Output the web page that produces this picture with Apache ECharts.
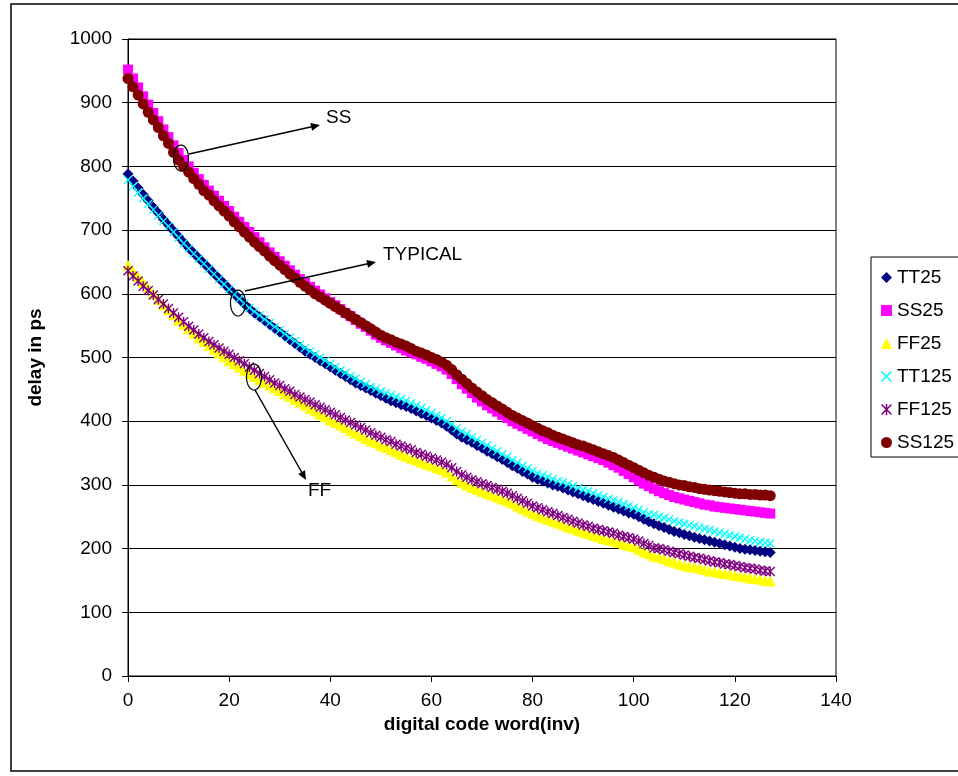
<!DOCTYPE html>
<html>
<head>
<meta charset="utf-8">
<script src="https://cdn.jsdelivr.net/npm/echarts@6/dist/echarts.min.js"></script>
<style>
html,body{margin:0;padding:0;background:#fff;}
#chart{width:958px;height:776px;}
</style>
</head>
<body>
<div id="chart"></div>
<script>
// ---- data ----
const xTicks = [0, 20, 40, 60, 80, 100, 120, 140];
const yTicks = [0, 100, 200, 300, 400, 500, 600, 700, 800, 900, 1000];
const seriesNames = ['TT25', 'SS25', 'FF25', 'TT125', 'FF125', 'SS125'];
const codes = [];
for (let i = 0; i < 128; i++) codes.push(i);

const tt25 = [788,777,766,756,746,736,727,717,708,699,690,681,672,664,656,648,640,632,624,616,
  608,600,592,584,577,570,564,558,552,546,540,534,528,522,516,510,505,500,495,490,
  485,480,475,470,465,460,456,452,448,444,440,436,432,429,426,423,420,416,412,409,
  405,401,397,392,386,380,375,371,367,362,358,353,349,344,340,335,330,326,321,317,
  312,309,306,303,300,298,295,292,289,286,283,280,277,274,271,268,265,262,259,256,
  254,250,246,242,239,236,233,230,227,225,222,220,218,216,214,212,210,208,206,204,
  202,200,199,198,197,196,195,194];
const ss25 = [952,938,924,910,897,884,871,858,846,833,821,810,800,790,780,771,762,754,746,738,
  730,721,713,705,697,689,681,673,665,658,651,644,637,630,623,617,611,605,599,593,
  587,582,576,570,565,559,553,548,542,536,531,527,523,519,515,511,508,505,501,498,
  494,490,486,481,474,466,458,451,444,437,431,425,420,415,410,405,400,396,392,388,
  384,380,376,372,369,366,363,360,357,354,351,348,345,342,339,335,331,327,322,317,
  312,307,302,298,294,290,287,284,281,279,277,275,273,271,269,268,266,265,264,263,
  262,261,260,259,258,257,256,255];
const ff25 = [645,636,627,618,609,600,591,583,575,567,559,552,545,538,531,525,519,513,507,501,
  495,490,485,480,475,470,466,461,457,452,448,443,439,434,430,425,420,416,411,407,
  402,398,394,390,385,381,377,373,369,366,362,359,355,352,348,345,342,339,336,333,
  330,327,324,320,314,308,304,300,296,293,290,287,284,281,278,275,271,267,263,259,
  255,252,249,246,243,240,237,234,232,229,226,224,221,219,216,214,212,210,207,205,
  203,199,195,192,188,187,184,181,179,176,174,172,171,169,167,165,164,162,161,160,
  158,157,156,154,153,152,150,149];
const tt125 = [779,769,759,750,741,732,723,714,706,697,688,679,671,663,655,647,639,631,623,615,
  607,599,592,585,578,572,566,560,554,548,543,537,531,526,520,515,510,505,500,495,
  490,485,480,476,471,467,462,458,454,451,447,444,441,438,435,432,428,425,421,417,
  413,409,405,400,395,389,384,380,375,371,366,362,357,353,348,344,339,335,330,326,
  322,318,315,312,309,306,304,301,298,295,292,290,287,284,281,278,276,273,270,267,
  264,261,257,254,253,250,248,246,243,241,239,237,235,233,231,229,227,225,223,221,
  219,217,215,213,212,210,209,208];
const ff125 = [636,628,620,612,605,598,591,584,577,570,563,556,549,543,537,531,525,520,515,510,
  505,500,495,490,485,480,475,470,465,460,456,451,447,442,438,434,430,426,422,418,
  414,410,406,402,398,394,390,386,382,378,375,371,368,364,361,358,355,351,348,345,
  342,339,336,332,327,321,316,312,308,305,302,299,296,293,290,287,283,279,275,271,
  267,264,261,258,255,252,249,246,243,240,237,235,232,230,228,226,224,221,219,217,
  215,212,208,205,201,200,198,196,194,192,190,188,186,185,183,181,179,178,176,175,
  173,172,170,169,168,166,165,164];
const ss125 = [938,925,912,898,885,873,861,848,836,822,810,800,791,781,772,762,755,746,738,730,
  722,713,705,697,689,681,674,667,659,652,645,638,631,625,618,612,606,600,595,590,
  585,580,575,570,565,560,555,550,545,540,535,531,528,524,521,518,514,510,507,504,
  500,497,493,488,481,473,466,459,452,446,440,434,429,424,419,414,409,405,401,397,
  393,389,385,382,378,375,372,369,366,363,361,358,355,352,349,346,343,339,335,331,
  327,323,319,315,312,309,306,304,302,300,299,297,296,294,293,292,291,290,289,288,
  287,286,286,285,285,284,284,283];

// ---- presentation ----
const FONT = '"Liberation Sans", Arial, sans-serif';
const xSym = 'path://M0,1 L1,0 L5,4 L9,0 L10,1 L6,5 L10,9 L9,10 L5,6 L1,10 L0,9 L4,5 Z';
const starSym = 'path://M0,1 L1,0 L5,4 L9,0 L10,1 L6,5 L10,9 L9,10 L5,6 L1,10 L0,9 L4,5 Z M4.3,0 L5.7,0 L5.7,10 L4.3,10 Z';
const styles = {
  TT25:  {color: '#000080', symbol: 'diamond', size: 11},
  SS25:  {color: '#FF00FF', symbol: 'rect', size: 10},
  FF25:  {color: '#FFFF00', symbol: 'triangle', size: 11},
  TT125: {color: '#00FFFF', symbol: xSym, size: 9},
  FF125: {color: '#800080', symbol: starSym, size: 10},
  SS125: {color: '#800000', symbol: 'circle', size: 11}
};
const values = {TT25: tt25, SS25: ss25, FF25: ff25, TT125: tt125, FF125: ff125, SS125: ss125};

function pairs(v) { return codes.map((c, i) => [c, v[i]]); }

function ellipsePts(cx, cy, rx, ry) {
  const pts = [];
  for (let k = 0; k < 48; k++) {
    const a = k / 48 * Math.PI * 2;
    pts.push([cx + rx * Math.cos(a), cy + ry * Math.sin(a)]);
  }
  return pts;
}

const chart = echarts.init(document.getElementById('chart'), null, {renderer: 'canvas'});
const option = {
  animation: false,
  backgroundColor: '#fff',
  textStyle: {fontFamily: FONT},
  grid: {left: 128, top: 39, right: 122, bottom: 100, show: true, borderColor: '#000', borderWidth: 1, backgroundColor: '#fff'},
  legend: {
    orient: 'vertical', left: 871, top: 257,
    padding: [11, 30, 5, 10],
    itemWidth: 11, itemHeight: 11, itemGap: 14,
    borderColor: '#000', borderWidth: 1,
    textStyle: {fontFamily: FONT, fontSize: 19, color: '#000', lineHeight: 19},
    data: seriesNames
  },
  xAxis: {
    type: 'value', min: xTicks[0], max: xTicks[xTicks.length - 1], interval: 20,
    name: 'digital code word(inv)', nameLocation: 'middle', nameGap: 29,
    nameTextStyle: {fontFamily: FONT, fontSize: 19, fontWeight: 'bold', color: '#000'},
    axisLine: {lineStyle: {color: '#000', width: 1}},
    axisTick: {show: true, length: 6, lineStyle: {color: '#000'}},
    axisLabel: {fontFamily: FONT, fontSize: 19, color: '#000', margin: 15},
    splitLine: {show: false}
  },
  yAxis: {
    type: 'value', min: yTicks[0], max: yTicks[yTicks.length - 1], interval: 100,
    name: 'delay in ps', nameLocation: 'middle', nameGap: 83,
    nameTextStyle: {fontFamily: FONT, fontSize: 19, fontWeight: 'bold', color: '#000'},
    axisLine: {show: true, lineStyle: {color: '#000', width: 1}},
    axisTick: {show: true, length: 6, lineStyle: {color: '#000'}},
    axisLabel: {fontFamily: FONT, fontSize: 19, color: '#000', margin: 16, formatter: v => String(v)},
    splitLine: {show: true, lineStyle: {color: '#000', width: 1}}
  },
  series: seriesNames.map(n => ({
    name: n, type: 'scatter',
    symbol: styles[n].symbol, symbolSize: styles[n].size,
    itemStyle: {color: styles[n].color, opacity: 1},
    emphasis: {disabled: true},
    data: pairs(values[n])
  })),
  graphic: [
    {type: 'rect', shape: {x: 11, y: 4, width: 970, height: 767}, style: {fill: 'none', stroke: '#000', lineWidth: 1.5}, z: 100, silent: true},
    // SS annotation
    {type: 'polygon', shape: {points: ellipsePts(181, 158, 7.5, 13)}, style: {fill: 'none', stroke: '#000', lineWidth: 1.2}, z: 100},
    {type: 'line', shape: {x1: 189, y1: 154, x2: 314, y2: 126.3}, style: {stroke: '#000', lineWidth: 1.5}, z: 100},
    {type: 'polygon', shape: {points: [[320, 125], [312.1, 130.8], [310.3, 123.0]]}, style: {fill: '#000'}, z: 100},
    {type: 'text', left: 326, top: 108, style: {text: 'SS', font: '19px ' + FONT, fill: '#000'}, z: 100},
    // TYPICAL annotation
    {type: 'polygon', shape: {points: ellipsePts(238, 303, 7.5, 13)}, style: {fill: 'none', stroke: '#000', lineWidth: 1.2}, z: 100},
    {type: 'line', shape: {x1: 245, y1: 291, x2: 370, y2: 263.3}, style: {stroke: '#000', lineWidth: 1.5}, z: 100},
    {type: 'polygon', shape: {points: [[376, 262], [368.1, 267.8], [366.3, 260.0]]}, style: {fill: '#000'}, z: 100},
    {type: 'text', left: 383, top: 245, style: {text: 'TYPICAL', font: '19px ' + FONT, fill: '#000'}, z: 100},
    // FF annotation
    {type: 'polygon', shape: {points: ellipsePts(254, 377, 7.5, 13)}, style: {fill: 'none', stroke: '#000', lineWidth: 1.2}, z: 100},
    {type: 'line', shape: {x1: 255, y1: 390, x2: 303, y2: 474.5}, style: {stroke: '#000', lineWidth: 1.5}, z: 100},
    {type: 'polygon', shape: {points: [[306, 480], [298.1, 474.1], [305.0, 470.2]]}, style: {fill: '#000'}, z: 100},
    {type: 'text', left: 308, top: 481, style: {text: 'FF', font: '19px ' + FONT, fill: '#000'}, z: 100}
  ]
};
chart.setOption(option);
</script>
</body>
</html>
